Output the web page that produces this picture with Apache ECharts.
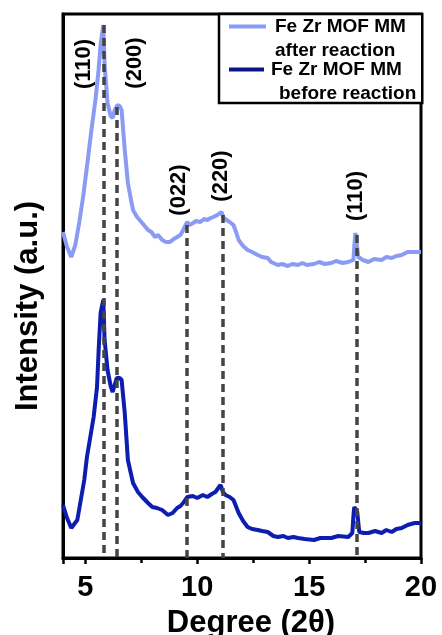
<!DOCTYPE html>
<html>
<head>
<meta charset="utf-8">
<script src="https://cdn.jsdelivr.net/npm/echarts@6/dist/echarts.min.js"></script>
<style>
  html, body { margin: 0; padding: 0; background: #fff; }
  #chart { width: 442px; height: 635px; }
</style>
</head>
<body>
<div id="chart"></div>
<script>
// XRD patterns, intensity in arbitrary units (0 - 544)

const afterX = [4.00, 4.18, 4.37, 4.55, 4.73, 4.91, 5.09, 5.27, 5.45, 5.59, 5.68, 5.80, 5.86, 5.99, 6.13, 6.22, 6.31, 6.44, 6.53, 6.62,
  6.76, 6.90, 7.04, 7.13, 7.31, 7.54, 7.80, 7.95, 8.11, 8.25, 8.43, 8.60, 8.78, 8.95, 9.10, 9.25, 9.37, 9.55, 9.65, 9.82,
  9.95, 10.14, 10.30, 10.45, 10.60, 10.72, 10.90, 11.08, 11.18, 11.26, 11.45, 11.62, 11.75, 11.85, 12.05, 12.25, 12.45, 12.70, 12.90, 13.15,
  13.30, 13.60, 13.80, 14.05, 14.25, 14.50, 14.70, 14.90, 15.22, 15.45, 15.70, 15.99, 16.20, 16.50, 16.75, 16.98, 17.03, 17.07, 17.12, 17.20,
  17.40, 17.65, 17.90, 18.24, 18.45, 18.69, 18.90, 19.14, 19.40, 19.72, 20.00]
const afterY = [326, 311, 301, 313, 336, 363, 395, 428, 458, 488, 513, 533, 493, 455, 442, 440, 448, 453, 452, 448,
  408, 375, 358, 348, 341, 335, 328, 326, 321, 323, 318, 316, 316, 319, 321, 323, 328, 336, 333, 335,
  337, 336, 339, 338, 340, 341, 343, 346, 340, 338, 336, 333, 325, 318, 312, 308, 306, 303, 301, 300,
  296, 293, 294, 292, 294, 293, 295, 293, 294, 296, 294, 295, 297, 295, 296, 298, 315, 325, 315, 301,
  298, 296, 299, 298, 301, 300, 302, 303, 306, 306, 306]

const beforeX = [4.00, 4.18, 4.37, 4.64, 4.95, 5.07, 5.22, 5.37, 5.52, 5.60, 5.68, 5.80, 5.86, 5.99, 6.13, 6.22, 6.40, 6.53, 6.62, 6.76,
  6.90, 7.13, 7.35, 7.54, 7.80, 7.99, 8.20, 8.43, 8.69, 8.90, 9.10, 9.25, 9.37, 9.55, 9.80, 10.00, 10.25, 10.45, 10.65, 10.81,
  11.04, 11.15, 11.26, 11.45, 11.62, 11.85, 12.05, 12.25, 12.45, 12.70, 12.90, 13.15, 13.40, 13.60, 13.85, 14.05, 14.30, 14.50, 14.80, 15.22,
  15.50, 15.99, 16.30, 16.75, 16.93, 16.99, 17.02, 17.15, 17.24, 17.45, 17.65, 17.95, 18.24, 18.45, 18.69, 18.90, 19.14, 19.40, 19.72, 20.00]
const beforeY = [53, 40, 30, 38, 78, 101, 121, 141, 171, 211, 245, 258, 218, 188, 172, 166, 180, 180, 178, 145,
  98, 75, 66, 61, 55, 51, 50, 48, 43, 45, 50, 52, 55, 61, 62, 60, 63, 61, 64, 66,
  73, 66, 63, 61, 58, 45, 37, 31, 29, 28, 27, 26, 22, 21, 22, 20, 21, 20, 19, 18,
  20, 20, 22, 21, 25, 45, 51, 46, 26, 25, 25, 27, 25, 28, 26, 29, 30, 33, 35, 35]

// reflection guides: position, top of dashed line, label
const hklX = [5.8, 6.4, 9.55, 11.13, 17.12]
const hklTop = [533, 451, 333, 343, 323]
const hklLabelX = [4.95, 7.21, 9.19, 11.08, 17.07]
const hklLabelY = [494, 495, 368, 382, 362]
const hklText = ['(110)', '(200)', '(022)', '(220)', '(110)']

const xTicks = [5, 10, 15, 20]

const seriesNames = ['Fe Zr MOF MM\nafter reaction', 'Fe Zr MOF MM\n before reaction']
const colorAfter = '#8a9bf4'
const colorBefore = '#0c1db0'
const font = 'Liberation Sans, Arial, sans-serif'

const chart = echarts.init(document.getElementById('chart'))

const option = {
  animation: false,
  backgroundColor: '#fff',
  textStyle: { fontFamily: font },
  grid: {
    left: 63, right: 21, top: 14, bottom: 77,
    outerBoundsMode: 'none',
    containLabel: false,
    show: true, borderColor: '#000', borderWidth: 3
  },
  legend: {
    data: seriesNames,
    orient: 'vertical',
    left: 219,
    top: 14,
    padding: [3, 6, 0, 4],
    itemGap: 0,
    itemWidth: 0,
    itemHeight: 0,
    itemStyle: { opacity: 0 },
    lineStyle: { opacity: 0 },
    selectedMode: false,
    backgroundColor: '#fff',
    borderColor: '#000',
    borderWidth: 2.5,
    borderRadius: 0,
    formatter: function (name) {
      const i = seriesNames.indexOf(name)
      const lines = name.split('\n')
      return '{sw' + i + '| }{g' + i + '| }{t|' + lines[0] + '}\n{p' + i + '| }{t|' + lines[1].trim() + '}'
    },
    textStyle: {
      rich: {
        sw0: { width: 37, height: 4, backgroundColor: colorAfter },
        g0: { width: 9 },
        p0: { width: 46 },
        sw1: { width: 35, height: 4, backgroundColor: '#0b1585' },
        g1: { width: 7 },
        p1: { width: 50 },
        t: { fontSize: 19, fontWeight: 'bold', lineHeight: 24, color: '#000', fontFamily: font }
      }
    }
  },
  xAxis: {
    type: 'value',
    min: 4,
    max: 20,
    splitNumber: 3,
    name: 'Degree (2θ)',
    nameLocation: 'middle',
    nameGap: 50,
    nameTextStyle: { fontSize: 31, fontWeight: 'bold', color: '#000', fontFamily: font, padding: [0, 0, 0, 18] },
    axisLine: { show: true, lineStyle: { color: '#000', width: 3 } },
    axisTick: { show: true, inside: false, length: 6, lineStyle: { color: '#000', width: 2.5 } },
    minorTick: { show: true, splitNumber: 2, length: 5, lineStyle: { color: '#000', width: 2.5 } },
    axisLabel: {
      showMinLabel: false,
      margin: 15,
      fontSize: 29,
      fontWeight: 'bold',
      color: '#000',
      fontFamily: font,
      formatter: function (v) { return xTicks.indexOf(v) >= 0 ? String(v) : '' }
    },
    splitLine: { show: false }
  },
  yAxis: {
    type: 'value',
    min: 0,
    max: 544,
    name: 'Intensity (a.u.)',
    nameLocation: 'middle',
    nameGap: 19,
    nameTextStyle: { fontSize: 31, fontWeight: 'bold', color: '#000', fontFamily: font, padding: [0, 40, 0, 0] },
    axisLine: { show: true, lineStyle: { color: '#000', width: 3 } },
    axisTick: { show: false },
    axisLabel: { show: false },
    splitLine: { show: false }
  },
  series: [
    {
      name: seriesNames[0],
      type: 'line',
      symbol: 'none',
      color: colorAfter,
      lineStyle: { width: 4, color: colorAfter },
      data: afterX.map((x, i) => [x, afterY[i]]),
      z: 2
    },
    {
      name: seriesNames[1],
      type: 'line',
      symbol: 'none',
      color: colorBefore,
      lineStyle: { width: 4, color: colorBefore },
      data: beforeX.map((x, i) => [x, beforeY[i]]),
      z: 2
    },
    {
      name: 'hkl',
      type: 'line',
      data: [],
      z: 5,
      markLine: {
        silent: true,
        symbol: 'none',
        label: { show: false },
        lineStyle: { color: '#444', width: 3.5, type: [8, 5] },
        data: hklX.map((x, i) => [{ coord: [x, hklTop[i]] }, { coord: [x, 0] }])
      }
    },
    {
      name: 'hklLabel',
      type: 'scatter',
      symbolSize: 0,
      itemStyle: { color: '#000', opacity: 1 },
      silent: true,
      z: 6,
      data: hklLabelX.map((x, i) => ({ value: [x, hklLabelY[i]], name: hklText[i] })),
      label: {
        show: true,
        position: 'inside',
        rotate: 90,
        formatter: '{b}',
        fontSize: 22,
        fontWeight: 'bold',
        color: '#000',
        opacity: 1,
        textBorderWidth: 0,
        fontFamily: font
      }
    }
  ]
}

chart.setOption(option)
</script>
</body>
</html>
